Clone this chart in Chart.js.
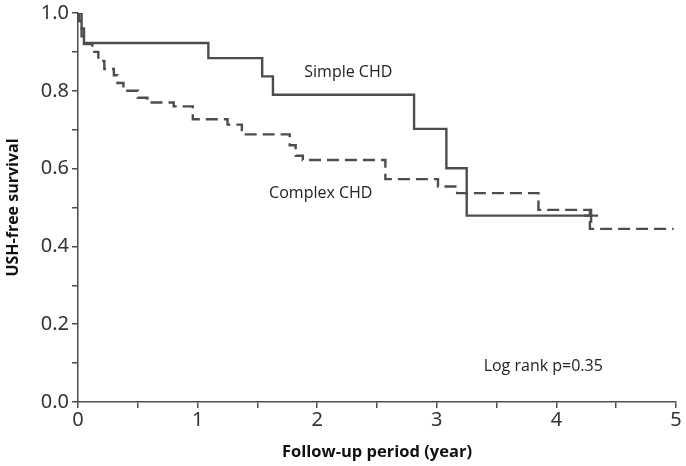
<!DOCTYPE html>
<html>
<head>
<meta charset="utf-8">
<script src="https://cdn.jsdelivr.net/npm/chart.js@4"></script>
<style>
  html, body { margin: 0; padding: 0; background: #fff; }
  #wrap { width: 686px; height: 466px; }
</style>
</head>
<body>
<div id="wrap"><canvas id="km"></canvas></div>
<script>
// Kaplan-Meier curves: each point = time (years) at which survival steps down
var simpleTimes = [0, 0.03, 0.05, 1.09, 1.54, 1.63, 2.81, 3.08, 3.25, 4.29];
var simpleSurv  = [1.0, 0.96, 0.923, 0.884, 0.837, 0.79, 0.702, 0.601, 0.479, 0.479];

var complexTimes = [0, 0.01, 0.02, 0.03, 0.05, 0.12, 0.17, 0.22, 0.30, 0.33, 0.38, 0.50, 0.58, 0.80, 0.96, 1.25, 1.37, 1.77, 1.82, 1.88, 2.57, 3.01, 3.17, 3.85, 4.28, 4.98];
var complexSurv  = [1.0, 0.98, 0.96, 0.94, 0.92, 0.90, 0.877, 0.856, 0.84, 0.82, 0.80, 0.782, 0.770, 0.760, 0.727, 0.713, 0.688, 0.66, 0.633, 0.622, 0.573, 0.554, 0.537, 0.494, 0.445, 0.445];

var labels = [
  { text: "Simple CHD", x: 2.26, y: 0.846 },
  { text: "Complex CHD", x: 2.03, y: 0.536 },
  { text: "Log rank p=0.35", x: 3.89, y: 0.092 }
];

var ink = "#4d4d4d";
var tickInk = "#333";

function pts(ts, ss) {
  return ts.map(function (t, i) { return { x: t, y: ss[i] }; });
}

var textPlugin = {
  id: "notes",
  afterDatasetsDraw: function (chart) {
    var ctx = chart.ctx, xs = chart.scales.x, ys = chart.scales.y;
    ctx.save();
    ctx.fillStyle = "#222";
    ctx.font = "16px 'Open Sans'";
    ctx.textAlign = "center";
    ctx.textBaseline = "middle";
    labels.forEach(function (l) {
      ctx.fillText(l.text, xs.getPixelForValue(l.x), ys.getPixelForValue(l.y));
    });
    ctx.restore();
  }
};

new Chart(document.getElementById("km"), {
  type: "line",
  data: {
    datasets: [
      {
        label: "Simple CHD",
        data: pts(simpleTimes, simpleSurv),
        stepped: true,
        borderColor: ink,
        borderWidth: 2.4,
        pointStyle: "cross",
        pointRadius: function (c) { return c.dataIndex === simpleTimes.length - 1 ? 7 : 0; },
        pointBorderColor: ink,
        pointBorderWidth: 2.4,
        fill: false
      },
      {
        label: "Complex CHD",
        data: pts(complexTimes, complexSurv),
        stepped: true,
        borderColor: ink,
        borderWidth: 2.4,
        borderDash: [12, 6],
        pointRadius: 0,
        fill: false
      }
    ]
  },
  options: {
    responsive: true,
    maintainAspectRatio: false,
    animation: false,
    layout: { padding: { top: 0, right: 10, left: 0, bottom: 0 } },
    plugins: { legend: { display: false }, tooltip: { enabled: false } },
    scales: {
      x: {
        type: "linear",
        min: 0,
        max: 5,
        border: { color: ink, width: 1.5 },
        grid: { drawOnChartArea: false, drawTicks: true, tickLength: 6, color: ink, lineWidth: 1.5 },
        ticks: {
          stepSize: 0.5,
          color: tickInk,
          padding: 2,
          font: { family: "'Liberation Sans Narrow', 'Noto Sans'", size: 20, lineHeight: 1 },
          callback: function (v) { return Math.abs(v - Math.round(v)) < 1e-6 ? String(Math.round(v)) : ""; }
        },
        title: {
          display: true,
          text: "Follow-up period (year)",
          color: "#111",
          font: { family: "'Open Sans'", size: 16.5, weight: "bold" },
          padding: { top: 8 }
        },
        afterFit: function (s) { s.height = 64; }
      },
      y: {
        min: 0,
        max: 1,
        border: { color: ink, width: 1.5 },
        grid: { drawOnChartArea: false, drawTicks: true, tickLength: 6, color: ink, lineWidth: 1.5 },
        ticks: {
          stepSize: 0.1,
          color: tickInk,
          padding: 3,
          font: { family: "'Liberation Sans Narrow', 'Noto Sans'", size: 20, lineHeight: 1 },
          callback: function (v) {
            var k = Math.round(v * 10);
            return k % 2 === 0 ? (k / 10).toFixed(1) : "";
          }
        },
        title: {
          display: true,
          text: "USH-free survival",
          color: "#111",
          font: { family: "'Open Sans'", size: 16, weight: "bold" },
          padding: { bottom: 4 }
        },
        afterFit: function (s) { s.width = 78; }
      }
    }
  },
  plugins: [textPlugin]
});
</script>
</body>
</html>
